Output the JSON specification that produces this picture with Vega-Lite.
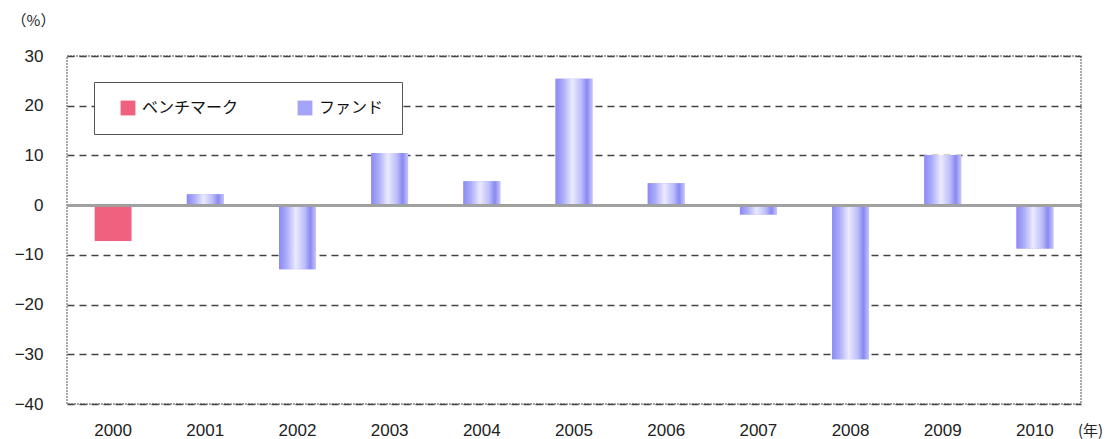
{
  "$schema": "https://vega.github.io/schema/vega-lite/v6.json",
  "width": 1014,
  "height": 348,
  "autosize": {"type": "none"},
  "padding": {"left": 67, "top": 56, "right": 28, "bottom": 35},
  "background": "white",
  "config": {
    "view": {"stroke": "#8a8a8a", "strokeDash": [2, 1], "strokeWidth": 1.5},
    "font": "Liberation Sans"
  },
  "data": {
    "values": [
      {"year": "2000", "series": "ベンチマーク", "value": -7.2},
      {"year": "2001", "series": "ファンド", "value": 2.2},
      {"year": "2002", "series": "ファンド", "value": -12.9},
      {"year": "2003", "series": "ファンド", "value": 10.5},
      {"year": "2004", "series": "ファンド", "value": 4.8},
      {"year": "2005", "series": "ファンド", "value": 25.4},
      {"year": "2006", "series": "ファンド", "value": 4.4},
      {"year": "2007", "series": "ファンド", "value": -1.9},
      {"year": "2008", "series": "ファンド", "value": -31.0},
      {"year": "2009", "series": "ファンド", "value": 10.1},
      {"year": "2010", "series": "ファンド", "value": -8.7}
    ]
  },
  "encoding": {
    "x": {
      "field": "year",
      "type": "nominal",
      "sort": null,
      "scale": {"paddingInner": 0.6, "paddingOuter": 0.3},
      "axis": {
        "title": "(年)",
        "titleFont": "Noto Sans CJK JP",
        "titleFontSize": 15,
        "titleFontWeight": "normal",
        "titleColor": "#222",
        "titleX": 1023,
        "titleY": 26,
        "titleAlign": "center",
        "titleBaseline": "middle",
        "labelAngle": 0,
        "labelFont": "Liberation Sans",
        "labelFontSize": 17,
        "labelColor": "#222",
        "labelPadding": 18,
        "ticks": false,
        "domain": false,
        "grid": false
      }
    },
    "y": {
      "field": "value",
      "type": "quantitative",
      "scale": {"domain": [-40, 30], "nice": false},
      "axis": {
        "values": [-40, -30, -20, -10, 0, 10, 20, 30],
        "title": "（%）",
        "titleFont": "Noto Sans CJK JP",
        "titleFontSize": 15,
        "titleFontWeight": "normal",
        "titleColor": "#222",
        "titleAngle": 0,
        "titleX": -34,
        "titleY": -36,
        "titleAlign": "center",
        "titleBaseline": "middle",
        "labelFont": "Liberation Sans",
        "labelFontSize": 17,
        "labelColor": "#222",
        "labelPadding": 24,
        "ticks": false,
        "domain": false,
        "grid": true,
        "gridColor": "#444",
        "gridDash": [7, 5],
        "gridWidth": 1.3
      }
    }
  },
  "layer": [
    {
      "mark": {"type": "bar"},
      "encoding": {
        "color": {
          "field": "series",
          "type": "nominal",
          "scale": {"domain": ["ベンチマーク", "ファンド"], "range": ["#f0607f", "#a4a4f8"]},
          "legend": {
            "title": null,
            "orient": "none",
            "legendX": 27,
            "legendY": 26,
            "direction": "horizontal",
            "columns": 2,
            "columnPadding": 50,
            "symbolType": "square",
            "symbolSize": 220,
            "symbolStrokeWidth": 0,
            "symbolOffset": 8,
            "labelFont": "Noto Sans CJK JP",
            "labelFontSize": 16,
            "labelColor": "#111",
            "labelOffset": 6,
            "padding": 18,
            "strokeColor": "#555",
            "fillColor": "white"
          }
        }
      }
    },
    {
      "transform": [{"filter": "datum.series === 'ファンド'"}],
      "mark": {
        "type": "bar",
        "fill": {
          "gradient": "linear",
          "x1": 0, "y1": 0, "x2": 1, "y2": 0,
          "stops": [
            {"offset": 0, "color": "#8a8af4"},
            {"offset": 0.2, "color": "#ababf8"},
            {"offset": 0.45, "color": "#eaeaff"},
            {"offset": 0.7, "color": "#bcbcfa"},
            {"offset": 0.85, "color": "#8888f2"},
            {"offset": 1, "color": "#c6c6fa"}
          ]
        }
      },
      "encoding": {}
    },
    {
      "mark": {"type": "rule", "color": "#a0a0a0", "strokeWidth": 2},
      "encoding": {"y": {"datum": 0}, "x": null}
    }
  ]
}
